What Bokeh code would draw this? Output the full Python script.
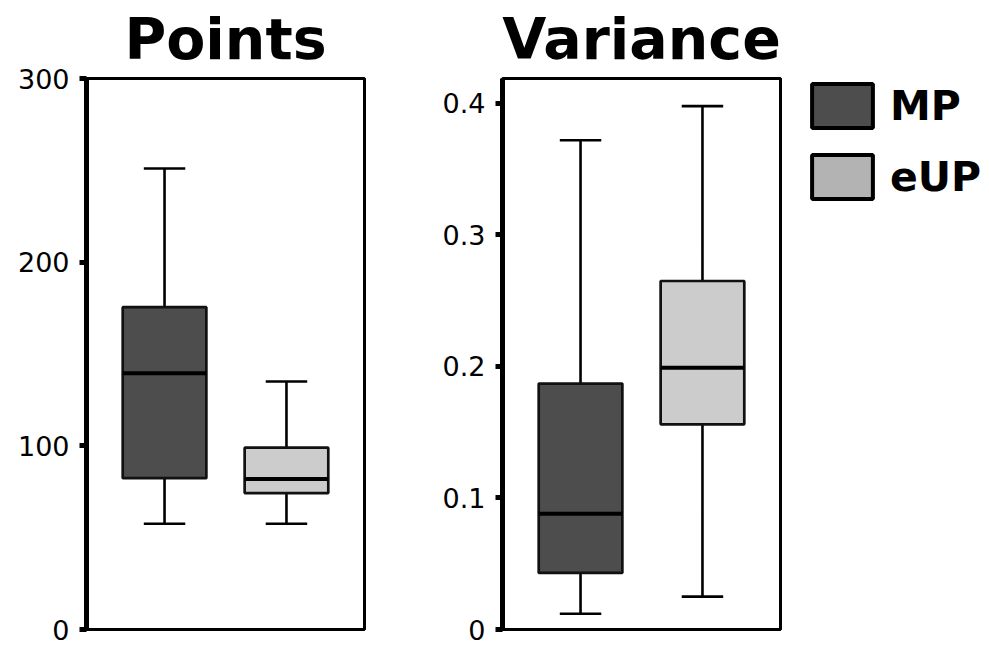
from bokeh.plotting import figure
from bokeh.layouts import row
from bokeh.models import Range1d, FixedTicker, Legend, LegendItem, ColumnDataSource
from bokeh.embed import file_html
from bokeh.resources import INLINE

# ---- data ----
groups = ["MP", "eUP"]
group_pos = [1, 2]
colors = ["#4d4d4d", "#cccccc"]
legend_colors = ["#4d4d4d", "#b3b3b3"]

points_low = [57.6, 57.6]
points_q1 = [82.4, 74.3]
points_med = [139.5, 82.0]
points_q3 = [175.5, 99.0]
points_high = [251.0, 135.0]
points_ticks = [0, 100, 200, 300]
points_tick_labels = ["0", "100", "200", "300"]

var_low = [0.012, 0.025]
var_q1 = [0.043, 0.156]
var_med = [0.088, 0.199]
var_q3 = [0.187, 0.265]
var_high = [0.372, 0.398]
var_ticks = [0, 0.1, 0.2, 0.3, 0.4]
var_tick_labels = ["0", "0.1", "0.2", "0.3", "0.4"]

BOX_W = 0.686
CAP_W = 0.34
FONT = "DejaVu Sans"
TOP = 78
FRAME_H = 551
HEIGHT = 645


def make_panel(title, low, q1, med, q3, high, yr, ticks, labels, width, min_left, min_right):
    p = figure(width=width, height=HEIGHT, x_range=Range1d(0.36, 2.64), y_range=Range1d(*yr),
               output_backend="svg", toolbar_location=None, title=title,
               min_border_left=min_left, min_border_right=min_right, min_border_top=TOP,
               min_border_bottom=HEIGHT - TOP - FRAME_H)
    p.title.text_font = FONT
    p.title.text_font_size = "57px"
    p.title.text_font_style = "bold"
    p.title.align = "center"
    p.title.vertical_align = "top"
    p.title.text_color = "black"
    p.title.standoff = 9
    p.xaxis.visible = False
    p.xgrid.visible = False
    p.ygrid.visible = False
    p.outline_line_color = "black"
    p.outline_line_width = 3
    p.outline_line_alpha = 1
    ya = p.yaxis[0]
    ya.ticker = FixedTicker(ticks=ticks)
    ya.major_label_overrides = {t: l for t, l in zip(ticks, labels)}
    ya.axis_line_width = 5
    ya.axis_line_color = "black"
    ya.major_tick_line_width = 5
    ya.major_tick_line_color = "black"
    ya.major_tick_out = 7
    ya.major_tick_in = 0
    ya.minor_tick_line_color = None
    ya.major_label_text_font = FONT
    ya.major_label_text_font_size = "27px"
    ya.major_label_text_color = "black"
    ya.major_label_standoff = 10

    src = ColumnDataSource(dict(
        x=group_pos, low=low, q1=q1, med=med, q3=q3, high=high, color=colors,
        cap_l=[x - CAP_W / 2 for x in group_pos], cap_r=[x + CAP_W / 2 for x in group_pos],
        box_l=[x - BOX_W / 2 for x in group_pos], box_r=[x + BOX_W / 2 for x in group_pos],
    ))
    # whiskers
    p.segment(x0="x", y0="q3", x1="x", y1="high", source=src, line_color="black", line_width=2.6)
    p.segment(x0="x", y0="q1", x1="x", y1="low", source=src, line_color="black", line_width=2.6)
    p.segment(x0="cap_l", y0="high", x1="cap_r", y1="high", source=src, line_color="black", line_width=2.6)
    p.segment(x0="cap_l", y0="low", x1="cap_r", y1="low", source=src, line_color="black", line_width=2.6)
    # boxes
    p.vbar(x="x", width=BOX_W, top="q3", bottom="q1", source=src, fill_color="color",
           line_color="#111111", line_width=2.7)
    # medians
    p.segment(x0="box_l", y0="med", x1="box_r", y1="med", source=src, line_color="black", line_width=4)
    return p


p1 = make_panel("Points", points_low, points_q1, points_med, points_q3, points_high,
                (0, 300), points_ticks, points_tick_labels, 424, 86, 60)
p2 = make_panel("Variance", var_low, var_q1, var_med, var_q3, var_high,
                (0, 0.419), var_ticks, var_tick_labels, 372, 78, 16)

# legend panel: hidden copies of each group's box, shown only as legend swatches
p3 = figure(width=189, height=HEIGHT, x_range=Range1d(0.36, 2.64), y_range=Range1d(0, 0.419),
            output_backend="svg", toolbar_location=None,
            min_border_left=8, min_border_right=0, min_border_top=75, min_border_bottom=10)
p3.axis.visible = False
p3.grid.visible = False
p3.outline_line_color = None

items = []
for i, (g, c) in enumerate(zip(groups, legend_colors)):
    r = p3.vbar(x=[group_pos[i]], top=[var_q3[i]], bottom=[var_q1[i]], width=BOX_W,
                fill_color=c, line_color="black", line_width=4)
    r.visible = False
    items.append(LegendItem(label=g, renderers=[r]))

legend = Legend(items=items, location="top_left", glyph_width=76, glyph_height=55,
                label_text_font=FONT, label_text_font_size="41px", label_text_font_style="bold",
                label_text_color="black", label_standoff=10, spacing=16, padding=0, margin=0,
                border_line_color=None, background_fill_alpha=0, inactive_fill_alpha=0)
p3.add_layout(legend, "center")

layout = row(p1, p2, p3, spacing=0)

with open("out.html", "w") as f:
    f.write(file_html(layout, INLINE))
